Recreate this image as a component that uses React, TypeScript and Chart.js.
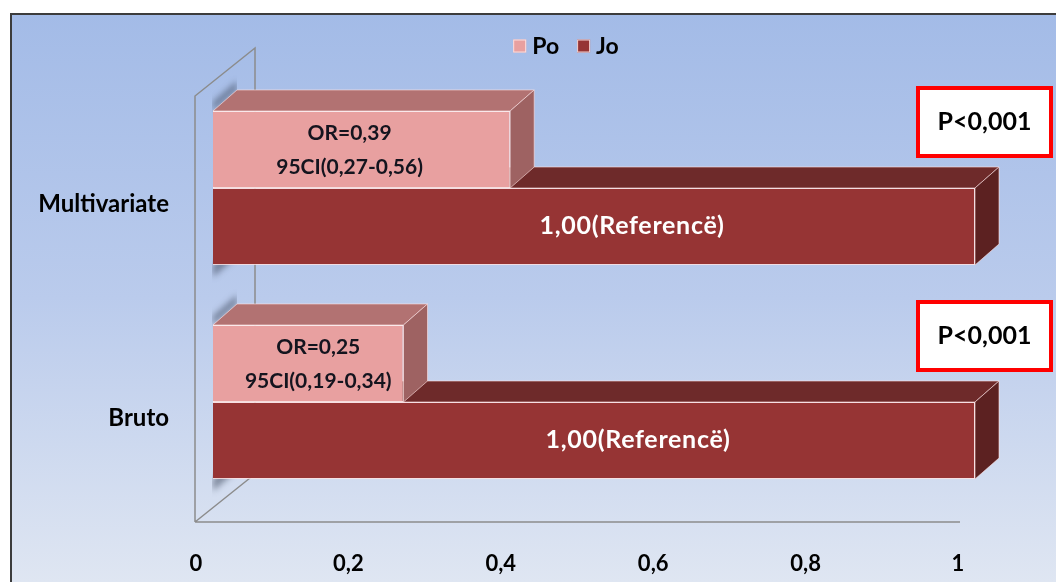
import React, { useEffect, useRef } from 'react';
import { Chart, registerables } from 'chart.js';

Chart.register(...registerables);

// ---- data ----
const categories = ['Multivariate', 'Bruto'];
const seriesNames = ['Po', 'Jo'];
const poValues = [0.39, 0.25];
const joValues = [1.0, 1.0];
const poLabels = [
  ['OR=0,39', '95CI(0,27-0,56)'],
  ['OR=0,25', '95CI(0,19-0,34)'],
];
const joLabels = [['1,00(Referencë)'], ['1,00(Referencë)']];
const pLabels = ['P<0,001', 'P<0,001'];
const xTickValues = [0, 0.2, 0.4, 0.6, 0.8, 1];
const xTickLabels = ['0', '0,2', '0,4', '0,6', '0,8', '1'];

// ---- styles ----
const FONT = 'Lato, "Open Sans", sans-serif';
const frontColors = ['#e8a0a0', '#963434'];
const topColors = ['#b27272', '#6e2a2a'];
const sideColors = ['#9e6262', '#5c2121'];
const DEPTH_X = 24;
const DEPTH_Y = -21;
// horizontal nudges of the hand-placed value labels (pixels)
const poLabelShift = [-12, 10];
const joLabelShift = [38, 44];

const backgroundPlugin = {
  id: 'bg3d',
  beforeDraw(chart: any) {
    const { ctx, width, height } = chart;
    ctx.save();
    ctx.fillStyle = '#ffffff';
    ctx.fillRect(0, 0, width, height);
    const g = ctx.createLinearGradient(0, 13, 0, height);
    g.addColorStop(0, '#a3bbe7');
    g.addColorStop(0.5, '#bacbec');
    g.addColorStop(1, '#dfe6f2');
    ctx.fillStyle = g;
    ctx.fillRect(10, 13, width - 10, height - 13);
    ctx.strokeStyle = '#3c3c3c';
    ctx.lineWidth = 2;
    ctx.beginPath();
    ctx.moveTo(11, height + 5);
    ctx.lineTo(11, 14);
    ctx.lineTo(width + 5, 14);
    ctx.stroke();
    ctx.restore();
  },
};

const wallPlugin = {
  id: 'wall3d',
  beforeDatasetsDraw(chart: any) {
    const { ctx, chartArea, scales } = chart;
    const fx = chartArea.left - 18;
    const floorY = chartArea.bottom + 13;
    const topY = chartArea.top + 15;
    const dx = 60;
    const dy = -48;
    const floorRight = scales.x.getPixelForValue(1) - 15;
    ctx.save();
    ctx.strokeStyle = '#8c8c8c';
    ctx.lineWidth = 1.5;
    ctx.beginPath();
    ctx.moveTo(fx, floorY);
    ctx.lineTo(fx, topY);
    ctx.lineTo(fx + dx, topY + dy);
    ctx.lineTo(fx + dx, floorY + dy);
    ctx.moveTo(fx, floorY);
    ctx.lineTo(fx + dx, floorY + dy);
    ctx.moveTo(fx, floorY);
    ctx.lineTo(floorRight, floorY);
    ctx.stroke();
    categories.forEach((_, i) => {
      const po = chart.getDatasetMeta(0).data[i];
      const jo = chart.getDatasetMeta(1).data[i];
      if (!po || !jo) return;
      const top = po.y - po.height / 2;
      const bottom = jo.y + jo.height / 2;
      const left = po.base;
      ctx.save();
      ctx.beginPath();
      ctx.rect(left - 1, 0, DEPTH_X + 1, chart.height);
      ctx.clip();
      ctx.filter = 'blur(3px)';
      ctx.fillStyle = 'rgba(55,65,85,0.55)';
      ctx.beginPath();
      ctx.moveTo(left, top);
      ctx.lineTo(left + DEPTH_X, top + DEPTH_Y);
      ctx.lineTo(left + DEPTH_X, top + DEPTH_Y - 9);
      ctx.lineTo(left, top - 9);
      ctx.closePath();
      ctx.fill();
      ctx.beginPath();
      ctx.moveTo(left, bottom);
      ctx.lineTo(left + DEPTH_X, bottom + DEPTH_Y);
      ctx.lineTo(left + DEPTH_X, bottom + DEPTH_Y + 12);
      ctx.lineTo(left, bottom + 12);
      ctx.closePath();
      ctx.fill();
      ctx.restore();
    });
    ctx.restore();
  },
};

const bars3dPlugin = {
  id: 'bars3d',
  beforeDatasetsDraw(chart: any) {
    const { ctx } = chart;
    ctx.save();
    ctx.lineWidth = 1;
    ctx.strokeStyle = 'rgba(255,225,225,0.6)';
    categories.forEach((_, i) => {
      [1, 0].forEach((d) => {
        const el = chart.getDatasetMeta(d).data[i];
        if (!el) return;
        const left = Math.min(el.base, el.x);
        const right = Math.max(el.base, el.x);
        const top = el.y - el.height / 2;
        const bottom = el.y + el.height / 2;
        ctx.fillStyle = topColors[d];
        ctx.beginPath();
        ctx.moveTo(left, top);
        ctx.lineTo(right, top);
        ctx.lineTo(right + DEPTH_X, top + DEPTH_Y);
        ctx.lineTo(left + DEPTH_X, top + DEPTH_Y);
        ctx.closePath();
        ctx.fill();
        ctx.stroke();
        ctx.fillStyle = sideColors[d];
        ctx.beginPath();
        ctx.moveTo(right, top);
        ctx.lineTo(right + DEPTH_X, top + DEPTH_Y);
        ctx.lineTo(right + DEPTH_X, bottom + DEPTH_Y);
        ctx.lineTo(right, bottom);
        ctx.closePath();
        ctx.fill();
        ctx.stroke();
      });
    });
    ctx.restore();
  },
};

const labelsPlugin = {
  id: 'labels3d',
  afterDatasetsDraw(chart: any) {
    const { ctx, scales } = chart;
    ctx.save();
    ctx.textAlign = 'center';
    ctx.textBaseline = 'middle';
    categories.forEach((_, i) => {
      const po = chart.getDatasetMeta(0).data[i];
      const jo = chart.getDatasetMeta(1).data[i];
      if (po) {
        const cx = (po.base + po.x) / 2 + poLabelShift[i];
        ctx.fillStyle = '#14141e';
        ctx.font = `bold 21px ${FONT}`;
        const lines = poLabels[i];
        ctx.fillText(lines[0], cx, po.y - 16);
        ctx.fillText(lines[1], cx, po.y + 18);
      }
      if (jo) {
        const cx = (jo.base + jo.x) / 2 + joLabelShift[i];
        ctx.fillStyle = '#ffffff';
        ctx.font = `bold 25px ${FONT}`;
        (ctx as any).letterSpacing = '0.7px';
        ctx.fillText(joLabels[i][0], cx, jo.y - 1);
        (ctx as any).letterSpacing = '0px';
      }
      const cy = scales.y.getPixelForValue(i);
      const bx = 916;
      const bw = 137;
      const by = cy - 102;
      const bh = 72;
      ctx.fillStyle = '#ffffff';
      ctx.fillRect(bx, by, bw, bh);
      ctx.strokeStyle = '#ff0000';
      ctx.lineWidth = 4;
      ctx.strokeRect(bx + 2, by + 2, bw - 4, bh - 4);
      ctx.fillStyle = '#000000';
      ctx.font = `bold 25px ${FONT}`;
      ctx.fillText(pLabels[i], bx + bw / 2, by + bh / 2);
    });
    // legend
    ctx.font = `bold 23px ${FONT}`;
    ctx.textAlign = 'left';
    const box = 13;
    const gap = 6;
    const itemGap = 18;
    const widths = seriesNames.map((n) => box + gap + ctx.measureText(n).width);
    const total = widths.reduce((a, b) => a + b, 0) + itemGap * (widths.length - 1);
    let x = 566 - total / 2;
    const ly = 46;
    seriesNames.forEach((n, k) => {
      ctx.fillStyle = frontColors[k];
      ctx.fillRect(x, ly - box / 2, box, box);
      ctx.strokeStyle = 'rgba(255,230,230,0.9)';
      ctx.lineWidth = 1;
      ctx.strokeRect(x + 0.5, ly - box / 2 + 0.5, box - 1, box - 1);
      ctx.fillStyle = '#000000';
      ctx.fillText(n, x + box + gap, ly + 1);
      x += widths[k] + itemGap;
    });
    ctx.restore();
  },
};

export default function App() {
  const ref = useRef<HTMLCanvasElement | null>(null);
  useEffect(() => {
    document.body.style.margin = '0';
    const canvas = ref.current;
    if (!canvas) return;
    const chart = new Chart(canvas, {
      type: 'bar',
      data: {
        labels: categories,
        datasets: [
          {
            label: seriesNames[0],
            data: poValues,
            backgroundColor: frontColors[0],
            borderColor: 'rgba(255,235,235,0.9)',
            borderWidth: 1,
            categoryPercentage: 0.72,
            barPercentage: 1,
          },
          {
            label: seriesNames[1],
            data: joValues,
            backgroundColor: frontColors[1],
            borderColor: 'rgba(255,225,225,0.8)',
            borderWidth: 1,
            categoryPercentage: 0.72,
            barPercentage: 1,
          },
        ],
      },
      options: {
        indexAxis: 'y',
        animation: false,
        responsive: false,
        layout: { padding: { left: 0, right: 81, top: 81, bottom: 0 } },
        plugins: {
          legend: { display: false },
          tooltip: { enabled: false },
        },
        scales: {
          x: {
            min: 0,
            max: 1,
            grid: { display: false, drawTicks: false },
            border: { display: false },
            afterBuildTicks: (scale: any) => {
              scale.ticks = xTickValues.map((v) => ({ value: v }));
            },
            afterFit: (scale: any) => {
              scale.height = 73;
            },
            ticks: {
              padding: 42,
              labelOffset: -17,
              color: '#000000',
              font: { family: FONT, size: 22, weight: 'bold' },
              callback: (_v: any, idx: number) => xTickLabels[idx],
            },
          },
          y: {
            grid: { display: false, drawTicks: false },
            border: { display: false },
            afterFit: (scale: any) => {
              scale.width = 213;
            },
            ticks: {
              padding: 44,
              labelOffset: 16,
              color: '#000000',
              font: { family: FONT, size: 24, weight: 'bold' },
            },
          },
        },
      },
      plugins: [backgroundPlugin, wallPlugin, bars3dPlugin, labelsPlugin],
    } as any);
    return () => chart.destroy();
  }, []);
  return (
    <div style={{ width: 1056, height: 582 }}>
      <canvas ref={ref} width={1056} height={582} style={{ display: 'block' }} />
    </div>
  );
}
